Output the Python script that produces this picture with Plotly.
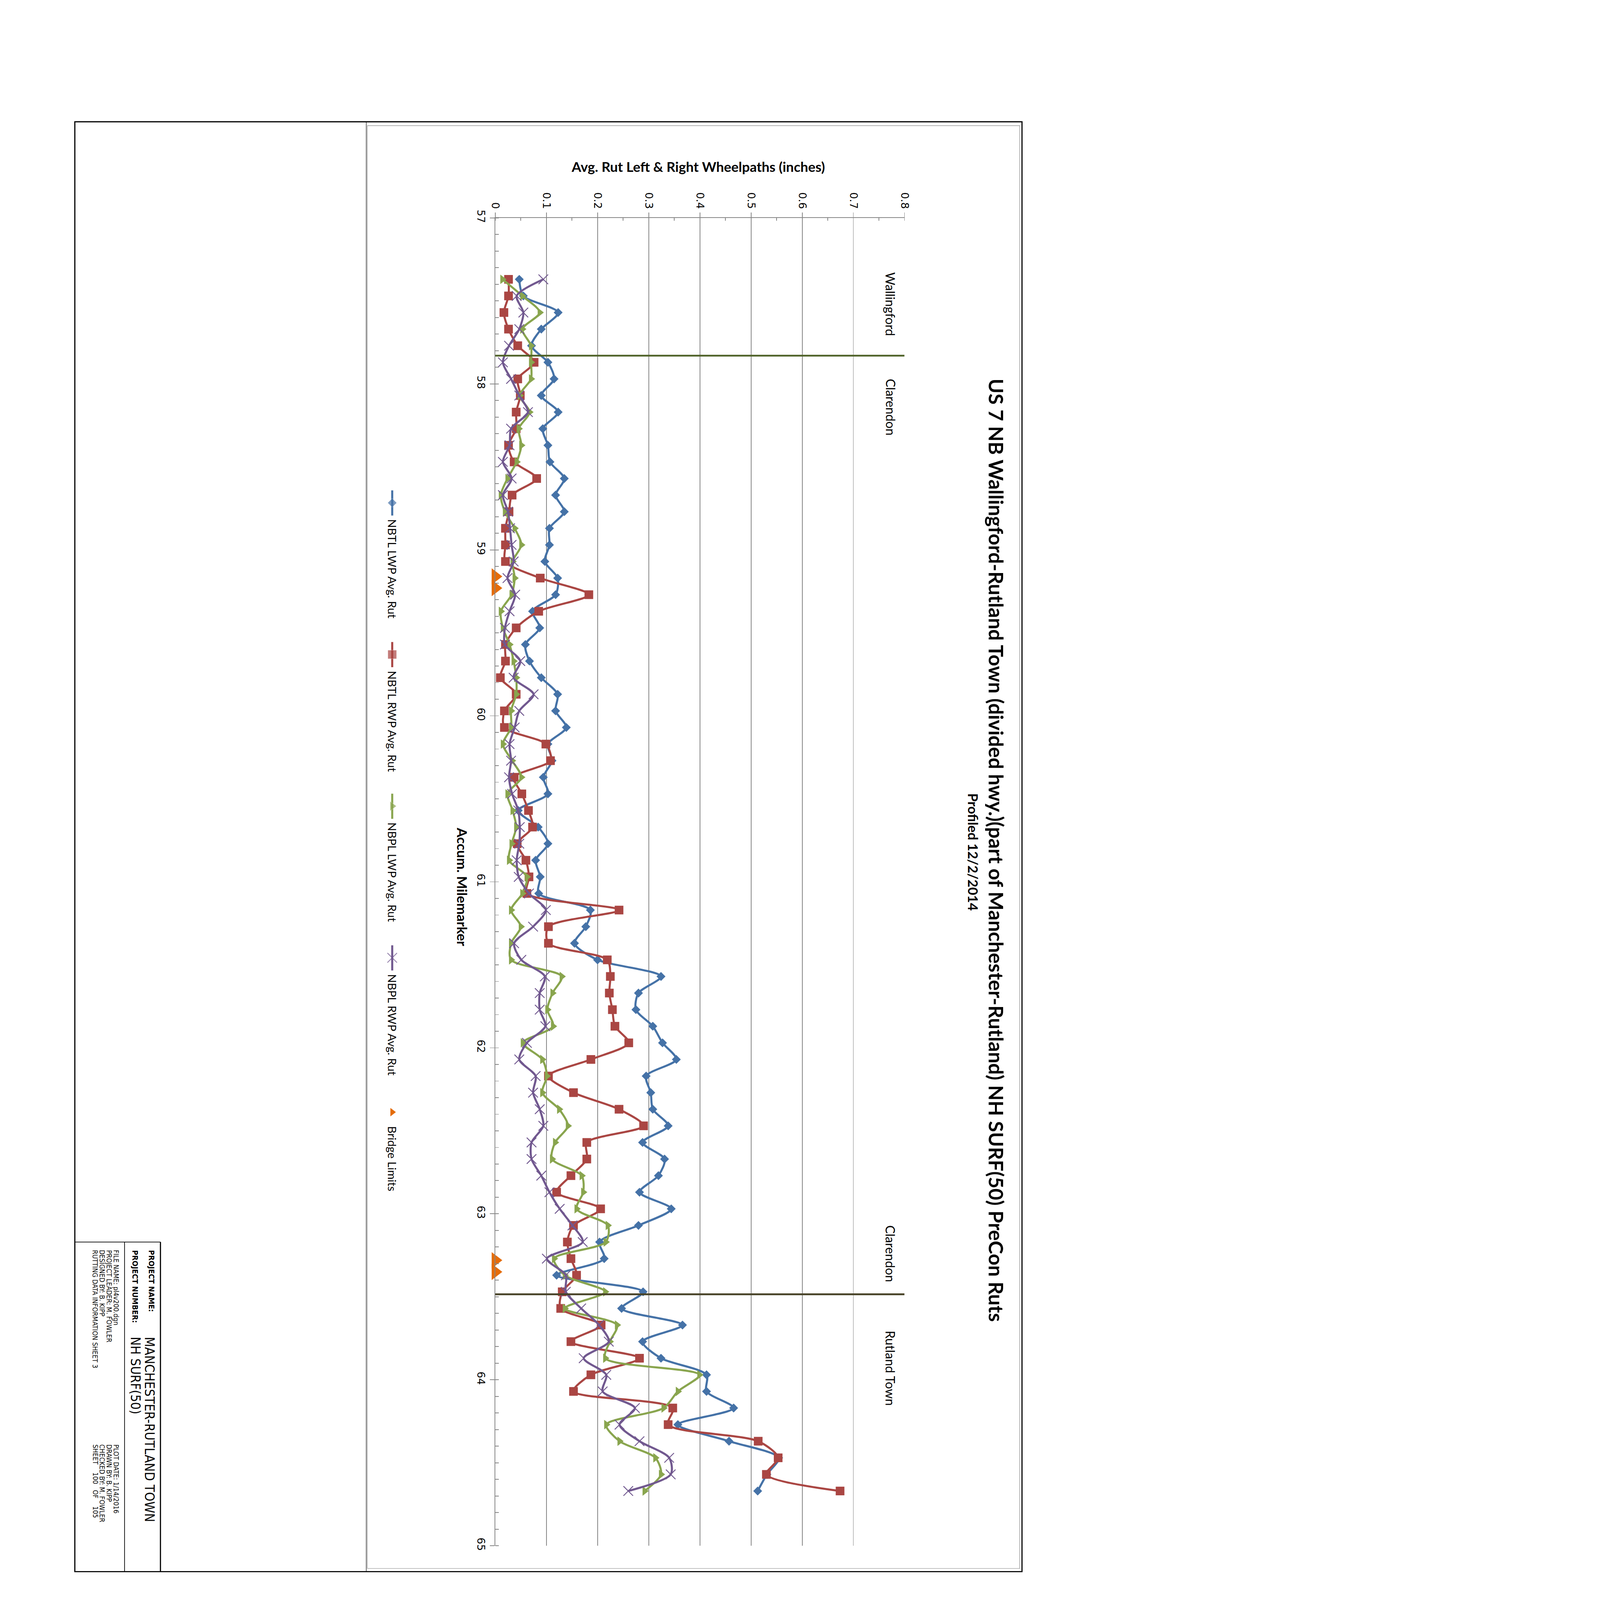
import plotly.graph_objects as go

W, H = 4600, 7000

# accumulated milemarker of every reading (one each 0.1 mile)
mile = [57.37, 57.47, 57.57, 57.67, 57.77, 57.87, 57.97, 58.07, 58.17, 58.27,
        58.37, 58.47, 58.57, 58.67, 58.77, 58.87, 58.97, 59.07, 59.17, 59.27,
        59.37, 59.47, 59.57, 59.67, 59.77, 59.87, 59.97, 60.07, 60.17, 60.27,
        60.37, 60.47, 60.57, 60.67, 60.77, 60.87, 60.97, 61.07, 61.17, 61.27,
        61.37, 61.47, 61.57, 61.67, 61.77, 61.87, 61.97, 62.07, 62.17, 62.27,
        62.37, 62.47, 62.57, 62.67, 62.77, 62.87, 62.97, 63.07, 63.17, 63.27,
        63.37, 63.47, 63.57, 63.67, 63.77, 63.87, 63.97, 64.07, 64.17, 64.27,
        64.37, 64.47, 64.57, 64.67]

nbtl_lwp = [0.047, 0.055, 0.123, 0.090, 0.071, 0.103, 0.115, 0.090, 0.123, 0.093,
            0.103, 0.107, 0.135, 0.118, 0.135, 0.106, 0.106, 0.097, 0.122, 0.118,
            0.073, 0.087, 0.059, 0.067, 0.090, 0.122, 0.118, 0.139, 0.103, 0.111,
            0.094, 0.103, 0.045, 0.084, 0.103, 0.079, 0.088, 0.085, 0.186, 0.177,
            0.155, 0.200, 0.324, 0.280, 0.275, 0.308, 0.327, 0.354, 0.295, 0.304,
            0.308, 0.338, 0.288, 0.331, 0.319, 0.282, 0.344, 0.280, 0.204, 0.213,
            0.120, 0.289, 0.247, 0.366, 0.288, 0.324, 0.413, 0.413, 0.466, 0.357,
            0.457, 0.554, 0.531, 0.513]

nbtl_rwp = [0.026, 0.026, 0.017, 0.026, 0.044, 0.076, 0.044, 0.049, 0.041, 0.041,
            0.026, 0.037, 0.081, 0.033, 0.027, 0.020, 0.020, 0.020, 0.088, 0.183,
            0.085, 0.041, 0.020, 0.020, 0.010, 0.041, 0.018, 0.018, 0.099, 0.108,
            0.037, 0.052, 0.065, 0.073, 0.043, 0.060, 0.066, 0.062, 0.242, 0.104,
            0.104, 0.219, 0.225, 0.223, 0.229, 0.234, 0.261, 0.187, 0.104, 0.153,
            0.242, 0.290, 0.179, 0.179, 0.148, 0.120, 0.206, 0.153, 0.141, 0.148,
            0.159, 0.131, 0.128, 0.207, 0.148, 0.282, 0.187, 0.153, 0.347, 0.338,
            0.514, 0.553, 0.530, 0.674]

nbpl_lwp = [0.014, 0.053, 0.087, 0.053, 0.070, 0.070, 0.070, 0.048, 0.067, 0.046,
            0.051, 0.042, 0.024, 0.011, 0.019, 0.038, 0.051, 0.034, 0.038, 0.032,
            0.011, 0.015, 0.028, 0.036, 0.041, 0.041, 0.031, 0.031, 0.015, 0.033,
            0.051, 0.024, 0.034, 0.041, 0.032, 0.027, 0.062, 0.053, 0.031, 0.050,
            0.031, 0.031, 0.130, 0.112, 0.102, 0.113, 0.054, 0.092, 0.101, 0.092,
            0.125, 0.142, 0.117, 0.111, 0.169, 0.172, 0.159, 0.220, 0.216, 0.115,
            0.136, 0.215, 0.136, 0.238, 0.224, 0.215, 0.399, 0.357, 0.329, 0.217,
            0.243, 0.313, 0.324, 0.292]

nbpl_rwp = [0.094, 0.042, 0.055, 0.047, 0.027, 0.015, 0.031, 0.047, 0.064, 0.031,
            0.028, 0.015, 0.032, 0.015, 0.025, 0.029, 0.032, 0.036, 0.024, 0.039,
            0.028, 0.019, 0.019, 0.049, 0.036, 0.075, 0.047, 0.038, 0.028, 0.031,
            0.027, 0.033, 0.045, 0.048, 0.047, 0.042, 0.046, 0.066, 0.099, 0.074,
            0.037, 0.051, 0.097, 0.087, 0.087, 0.098, 0.062, 0.047, 0.079, 0.074,
            0.087, 0.094, 0.071, 0.071, 0.090, 0.106, 0.126, 0.151, 0.171, 0.101,
            0.138, 0.138, 0.168, 0.203, 0.222, 0.173, 0.217, 0.210, 0.273, 0.243,
            0.282, 0.340, 0.343, 0.260]

bridge_mile = [59.16, 59.23, 63.28, 63.35]
bridge_rut = [0, 0, 0, 0]

town_line_mile = [57.83, 63.485]
town_line_color = ["#4F6228", "#494429"]
town_names = ["Wallingford", "Clarendon", "Clarendon", "Rutland Town"]
town_label_mile = [57.52, 58.14, 63.24, 63.93]

series = [
    ("NBTL LWP Avg. Rut", nbtl_lwp, "#4572A7", "diamond", 30),
    ("NBTL RWP Avg. Rut", nbtl_rwp, "#AA4643", "square", 38),
    ("NBPL LWP Avg. Rut", nbpl_lwp, "#89A54E", "triangle-right", 36),
    ("NBPL RWP Avg. Rut", nbpl_rwp, "#71588F", "x-thin", 42),
]
BRIDGE_COLOR = "#E46C0A"


def px(x):
    return x / W


def py(y):
    return 1 - y / H


GRID = "#868686"
fig = go.Figure()

for name, vals, color, sym, size in series:
    mk = dict(symbol=sym, size=size, color=color)
    if sym == "x-thin":
        mk["line"] = dict(color=color, width=4)
    fig.add_trace(go.Scatter(x=vals, y=mile, mode="lines+markers", name=name,
                             line=dict(color=color, width=9, shape="spline", smoothing=0.8),
                             marker=mk, showlegend=False))

fig.add_trace(go.Scatter(x=bridge_rut, y=bridge_mile, mode="markers", name="Bridge Limits",
                         marker=dict(symbol="triangle-right", size=62, color=BRIDGE_COLOR),
                         cliponaxis=False, showlegend=False))

# hand-made rotated legend, drawn on a pixel axis covering the whole page
leg_x = 1710
leg_top = [2127, 2796, 3465, 4134]
for (name, vals, color, sym, size), top in zip(series, leg_top):
    mk = dict(symbol=sym, size=[0, size, 0], color=color)
    if sym == "x-thin":
        mk["line"] = dict(color=color, width=4)
    fig.add_trace(go.Scatter(x=[leg_x] * 3, y=[top, top + 55, top + 111], mode="lines+markers",
                             line=dict(color=color, width=9), marker=mk,
                             xaxis="x2", yaxis="y2", showlegend=False, hoverinfo="skip"))
    fig.add_annotation(x=px(leg_x), y=py(top + 125), xref="paper", yref="paper",
                       text=name, textangle=90, showarrow=False, xanchor="center", yanchor="top",
                       font=dict(family="Lato", size=50, color="black"))
fig.add_trace(go.Scatter(x=[leg_x], y=[4870], mode="markers",
                         marker=dict(symbol="triangle-right", size=32, color=BRIDGE_COLOR),
                         xaxis="x2", yaxis="y2", showlegend=False, hoverinfo="skip"))
fig.add_annotation(x=px(leg_x), y=py(4930), xref="paper", yref="paper",
                   text="Bridge Limits", textangle=90, showarrow=False, xanchor="center",
                   yanchor="top", font=dict(family="Lato", size=50, color="black"))

shapes = []
for m, c in zip(town_line_mile, town_line_color):
    shapes.append(dict(type="line", xref="x", yref="y", x0=0, x1=0.8, y0=m, y1=m,
                       line=dict(color=c, width=8)))

# page frame and title block
shapes += [
    dict(type="rect", xref="paper", yref="paper", x0=px(1600), x1=px(4488), y0=py(518), y1=py(6883),
         line=dict(color=GRID, width=2)),
    dict(type="rect", xref="paper", yref="paper", x0=px(305), x1=px(4498), y0=py(501), y1=py(6897),
         line=dict(color="black", width=5)),
    dict(type="line", xref="paper", yref="paper", x0=px(1595), x1=px(1595), y0=py(501), y1=py(6897),
         line=dict(color="black", width=2)),
    dict(type="line", xref="paper", yref="paper", x0=px(525), x1=px(525), y0=py(5443), y1=py(6897),
         line=dict(color="black", width=3)),
    dict(type="line", xref="paper", yref="paper", x0=px(684), x1=px(684), y0=py(5443), y1=py(6897),
         line=dict(color="black", width=5)),
    dict(type="line", xref="paper", yref="paper", x0=px(305), x1=px(684), y0=py(5443), y1=py(5443),
         line=dict(color="black", width=3)),
]

for name, m in zip(town_names, town_label_mile):
    fig.add_annotation(x=0.7726, y=m, xref="x", yref="y", text=name, textangle=90,
                       showarrow=False, font=dict(family="Lato", size=55, color="black"))

# titles
fig.add_annotation(x=px(4440), y=py(3715), xref="paper", yref="paper", textangle=90, showarrow=False,
                   text="<b>US 7 NB Wallingford-Rutland Town (divided hwy.)(part of Manchester-Rutland) NH SURF(50) PreCon Ruts</b>",
                   font=dict(family="Lato", size=88, color="black"))
fig.add_annotation(x=px(4320), y=py(3722), xref="paper", yref="paper", textangle=90, showarrow=False,
                   text="<b>Profiled 12/2/2014</b>", font=dict(family="Lato", size=59, color="black"))
fig.add_annotation(x=px(3064), y=py(660), xref="paper", yref="paper", showarrow=False,
                   text="<b>Avg. Rut Left &amp; Right Wheelpaths (inches)</b>",
                   font=dict(family="Lato", size=60, color="black"))
fig.add_annotation(x=px(2020), y=py(3876), xref="paper", yref="paper", textangle=90, showarrow=False,
                   text="<b>Accum. Milemarker</b>", font=dict(family="Lato", size=60, color="black"))

CAD = "DejaVu Sans Condensed, Liberation Sans Narrow, DejaVu Sans"
block = [
    ("<b>PROJECT NAME:</b>", 644, 5476, 34),
    ("MANCHESTER-RUTLAND TOWN", 635, 5859, 58),
    ("<b>PROJECT NUMBER:</b>", 572, 5476, 34),
    ("NH SURF(50)", 572, 5859, 58),
    ("FILE NAME: pl4v200.dgn", 488, 5476, 30),
    ("PROJECT LEADER: M. FOWLER", 457, 5476, 30),
    ("DESIGNED BY: B. KIPP", 426, 5476, 30),
    ("RUTTING DATA INFORMATION SHEET 3", 395, 5476, 30),
    ("PLOT DATE: 1/14/2016", 488, 6334, 30),
    ("DRAWN BY: B. KIPP", 457, 6334, 30),
    ("CHECKED BY: M. FOWLER", 426, 6334, 30),
    ("SHEET&nbsp;&nbsp;&nbsp;&nbsp;100&nbsp;&nbsp;&nbsp;OF&nbsp;&nbsp;&nbsp;&nbsp;105", 395, 6334, 30),
]
for txt, x, y, s in block:
    fig.add_annotation(x=px(x), y=py(y), xref="paper", yref="paper", text=txt, textangle=90,
                       showarrow=False, xanchor="center", yanchor="top",
                       font=dict(family=CAD, size=s, color="black"))

tick_font = dict(family="DejaVu Sans", size=46, color="black")
fig.update_layout(
    width=W, height=H, autosize=False,
    margin=dict(l=0, r=0, t=0, b=0),
    paper_bgcolor="white", plot_bgcolor="rgba(0,0,0,0)",
    shapes=shapes,
    xaxis=dict(domain=[px(2166), px(3978)], range=[0, 0.8], side="top", anchor="y",
               dtick=0.1, tickangle=90, tickfont=tick_font,
               showgrid=True, gridcolor=GRID, gridwidth=3, zeroline=False,
               showline=True, linecolor=GRID, linewidth=3,
               ticks="outside", ticklen=20, tickwidth=3, tickcolor=GRID,
               minor=dict(dtick=0.05, ticks="inside", ticklen=12, tickwidth=3,
                          tickcolor=GRID, showgrid=False)),
    yaxis=dict(domain=[py(6783), py(925)], range=[65, 57], anchor="x",
               dtick=1, tickangle=90, tickfont=tick_font,
               showgrid=False, zeroline=False,
               showline=True, linecolor=GRID, linewidth=3,
               ticks="outside", ticklen=20, tickwidth=3, tickcolor=GRID,
               minor=dict(dtick=0.1, ticks="inside", ticklen=15, tickwidth=3,
                          tickcolor=GRID, showgrid=False)),
    xaxis2=dict(domain=[0, 1], range=[0, W], visible=False, anchor="y2", fixedrange=True),
    yaxis2=dict(domain=[0, 1], range=[H, 0], visible=False, anchor="x2", fixedrange=True),
    showlegend=False,
)

# the browser window can be smaller than the page; shrink the whole figure to fit it
fit_js = """
var gd = document.getElementById('{plot_id}');
document.body.style.margin = '0';
var s = Math.min(window.innerWidth / 4600, window.innerHeight / 7000);
if (s < 0.999) { gd.style.transformOrigin = '0 0'; gd.style.transform = 'scale(' + s + ')'; }
"""

fig.write_html("out.html", post_script=fit_js, config={"displayModeBar": False})
